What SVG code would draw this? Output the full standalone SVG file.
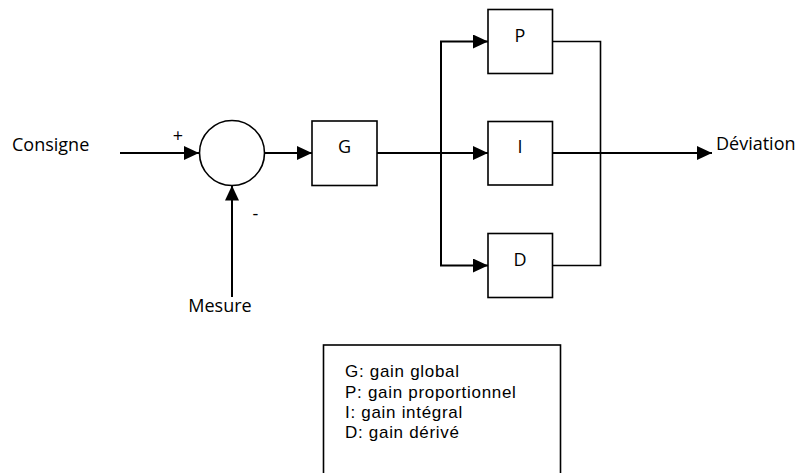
<svg xmlns="http://www.w3.org/2000/svg" width="798" height="473" viewBox="0 0 798 473">
<style>
  text { font-family: "Open Sans", "Liberation Sans", sans-serif; font-size: 18px; fill: #000; }
  .c { text-anchor: middle; }
  .leg { font-family: "Liberation Sans", Arial, sans-serif; font-size: 17px; letter-spacing: 0.7px; }
  .box { fill: #fff; stroke: #000; stroke-width: 1.6; }
  .wire { fill: none; stroke: #000; stroke-width: 2; }
  .thin { fill: none; stroke: #000; stroke-width: 1.6; }
</style>
<defs>
  <marker id="arr" markerUnits="userSpaceOnUse" markerWidth="15" markerHeight="14" refX="15" refY="7" orient="auto">
    <path d="M0,0 L15,7 L0,14 z" fill="#000"/>
  </marker>
</defs>
<rect width="798" height="473" fill="#fff"/>
<g id="connectors">
  <path class="wire" d="M120,153 H199" marker-end="url(#arr)"/>
  <path class="wire" d="M264.5,153 H312" marker-end="url(#arr)"/>
  <path class="wire" d="M232,297 V185.5" marker-end="url(#arr)"/>
  <path class="wire" d="M377,153 H488" marker-end="url(#arr)"/>
  <path class="wire" d="M441,153 V41.5 H488" marker-end="url(#arr)"/>
  <path class="wire" d="M441,153 V265.5 H488" marker-end="url(#arr)"/>
  <path class="thin" d="M552.5,41.5 H600.5 V265.5 H552.5"/>
  <path class="wire" d="M552.5,153 H712" marker-end="url(#arr)"/>
</g>
<g id="consigne"><text x="12" y="151">Consigne</text></g>
<g id="plus"><text class="c" x="178" y="142">+</text></g>
<g id="sum"><circle class="box" cx="232" cy="153" r="32.5"/></g>
<g id="minus"><text class="c" x="255.5" y="220">-</text></g>
<g id="mesure"><text class="c" x="220" y="312">Mesure</text></g>
<g id="G"><rect class="box" x="312" y="121" width="65" height="64.5"/><text class="c" x="344.5" y="153">G</text></g>
<g id="P"><rect class="box" x="488" y="9.5" width="64.5" height="64"/><text class="c" x="520" y="41.5">P</text></g>
<g id="I"><rect class="box" x="488" y="121.5" width="64.5" height="63.5"/><text class="c" x="520" y="153">I</text></g>
<g id="D"><rect class="box" x="488" y="233.5" width="64.5" height="64"/><text class="c" x="520" y="266">D</text></g>
<g id="deviation"><text x="716" y="149.5">Déviation</text></g>
<g id="legend">
  <rect class="box" x="323.5" y="345" width="237" height="135"/>
  <text class="leg" x="345" y="377">G: gain global</text>
  <text class="leg" x="345" y="397.5">P: gain proportionnel</text>
  <text class="leg" x="345" y="417.5">I: gain intégral</text>
  <text class="leg" x="345" y="437.5">D: gain dérivé</text>
</g>
</svg>
